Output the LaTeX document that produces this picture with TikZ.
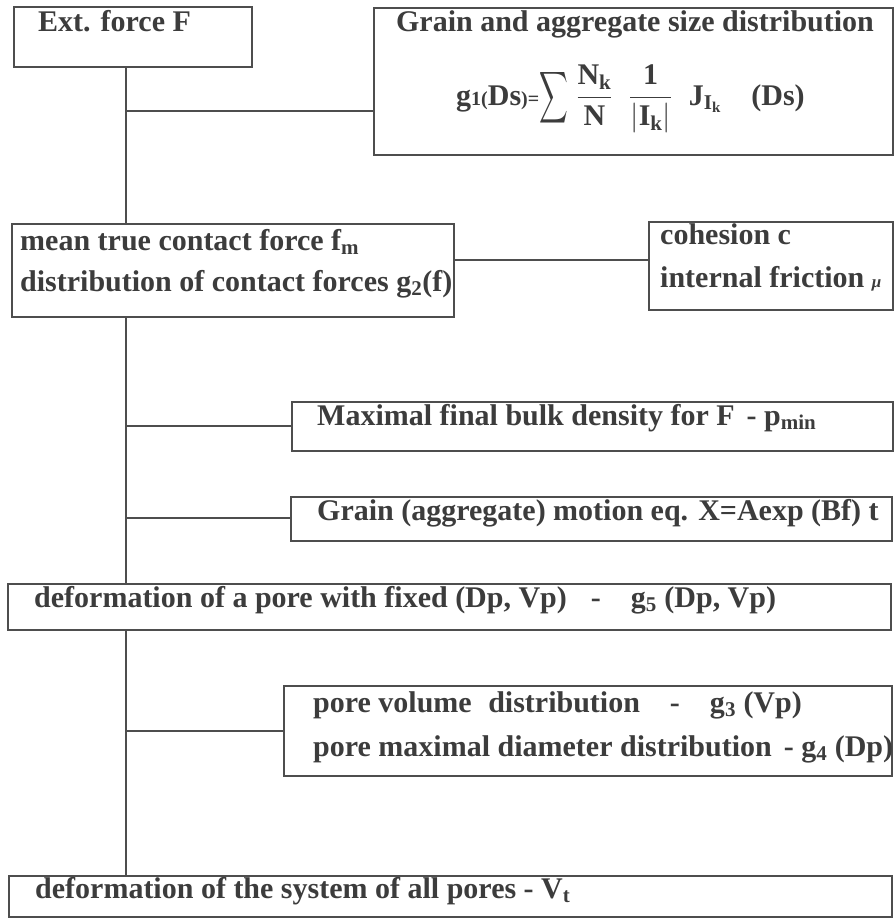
\RequirePackage{fix-cm}
\documentclass[tikz,border=0pt]{standalone}
\usepackage{amsmath}
\usepackage{exscale}
\usepackage{graphicx}
\usepackage{fontspec}
\setmainfont{Liberation Serif}
\usepackage{xcolor}
\usepackage{tikz}
\definecolor{inkgrey}{HTML}{3C3C3C}
\definecolor{linegrey}{HTML}{4E4E4E}

\begin{document}
\begin{tikzpicture}[x=1pt,y=-1pt,
  box/.style={draw=linegrey,line width=1.2pt,anchor=north west,inner sep=0pt,outer sep=0pt},
  txt/.style={anchor=base west,inner sep=0pt,text=inkgrey,font=\bfseries\fontsize{30}{36}\selectfont},
  link/.style={draw=linegrey,line width=1.8pt}]
  \useasboundingbox (0,0) rectangle (895,920);
  \node[box,minimum width=238,minimum height=60] (ext) at (14,7) {};
  \node[box,minimum width=519,minimum height=147] (grain) at (374,8) {};
  \node[box,minimum width=442,minimum height=93] (contact) at (12,224) {};
  \node[box,minimum width=244,minimum height=88] (cohes) at (649,222) {};
  \node[box,minimum width=601,minimum height=49] (maxden) at (292,402) {};
  \node[box,minimum width=601,minimum height=44] (motion) at (291,497) {};
  \node[box,minimum width=883,minimum height=46] (porefix) at (8,584) {};
  \node[box,minimum width=608,minimum height=90] (poredist) at (284,686) {};
  \node[box,minimum width=883,minimum height=41] (system) at (9,876) {};

  \node[txt] (extT) at (38,32) {Ext. force F};
  \node[txt,anchor=base] (grainT) at (635,32) {Grain and aggregate size distribution};
  \node[txt,anchor=west] (grainF) at (456,99) {g{\fontsize{20}{20}\selectfont 1(}Ds{\fontsize{20}{20}\selectfont )=}$\displaystyle\vcenter{\hbox{\scalebox{0.8}[1.45]{$\displaystyle\sum$}}}\;\frac{\text{N}_\text{k}}{\text{N}}\;\;\frac{\text{1}}{\lvert\text{I}_\text{k}\rvert}\;\;\text{J}_{\text{I}_\text{k}}$\quad(Ds)};
  \node[txt] (contactA) at (20,250) {mean true contact force f$_\text{m}$};
  \node[txt] (contactB) at (20,291) {distribution of contact forces g$_\text{2}$(f)};
  \node[txt] (cohesA) at (660,244) {cohesion c};
  \node[txt] (cohesB) at (660,287) {internal friction {\fontsize{17}{17}\selectfont\itshape μ}};
  \node[txt] (maxdenT) at (317,425) {Maximal final bulk density for F\hspace{0.4em}- p$_\text{min}$};
  \node[txt] (motionT) at (317,520) {Grain (aggregate) motion eq. X=Aexp (Bf) t};
  \node[txt] (porefixT) at (34,607) {deformation of a pore with fixed (Dp, Vp)\hspace{0.8em}-\hspace{1em}g$_\text{5}$ (Dp, Vp)};
  \node[txt] (poredistA) at (313,712) {pore volume\hspace{0.3em} distribution\hspace{1em}-\hspace{1em}g$_\text{3}$ (Vp)};
  \node[txt] (poredistB) at (313,756) {pore maximal diameter distribution\hspace{0.4em}- g$_\text{4}$ (Dp)};
  \node[txt] (systemT) at (35,898) {deformation of the system of all pores - V$_\text{t}$};

  \coordinate (b1) at (126,111);
  \coordinate (b2) at (126,426);
  \coordinate (b3) at (126,518);
  \coordinate (b4) at (126,731);
  \coordinate (bc) at (0,260);
  \draw[link] (ext.south -| b1) -- (contact.north -| b1);
  \draw[link] (contact.south -| b1) -- (porefix.north -| b1);
  \draw[link] (porefix.south -| b1) -- (system.north -| b1);
  \draw[link] (b1) -- (b1 -| grain.west);
  \draw[link] (contact.east |- bc) -- (cohes.west |- bc);
  \draw[link] (b2) -- (b2 -| maxden.west);
  \draw[link] (b3) -- (b3 -| motion.west);
  \draw[link] (b4) -- (b4 -| poredist.west);
\end{tikzpicture}
\end{document}
